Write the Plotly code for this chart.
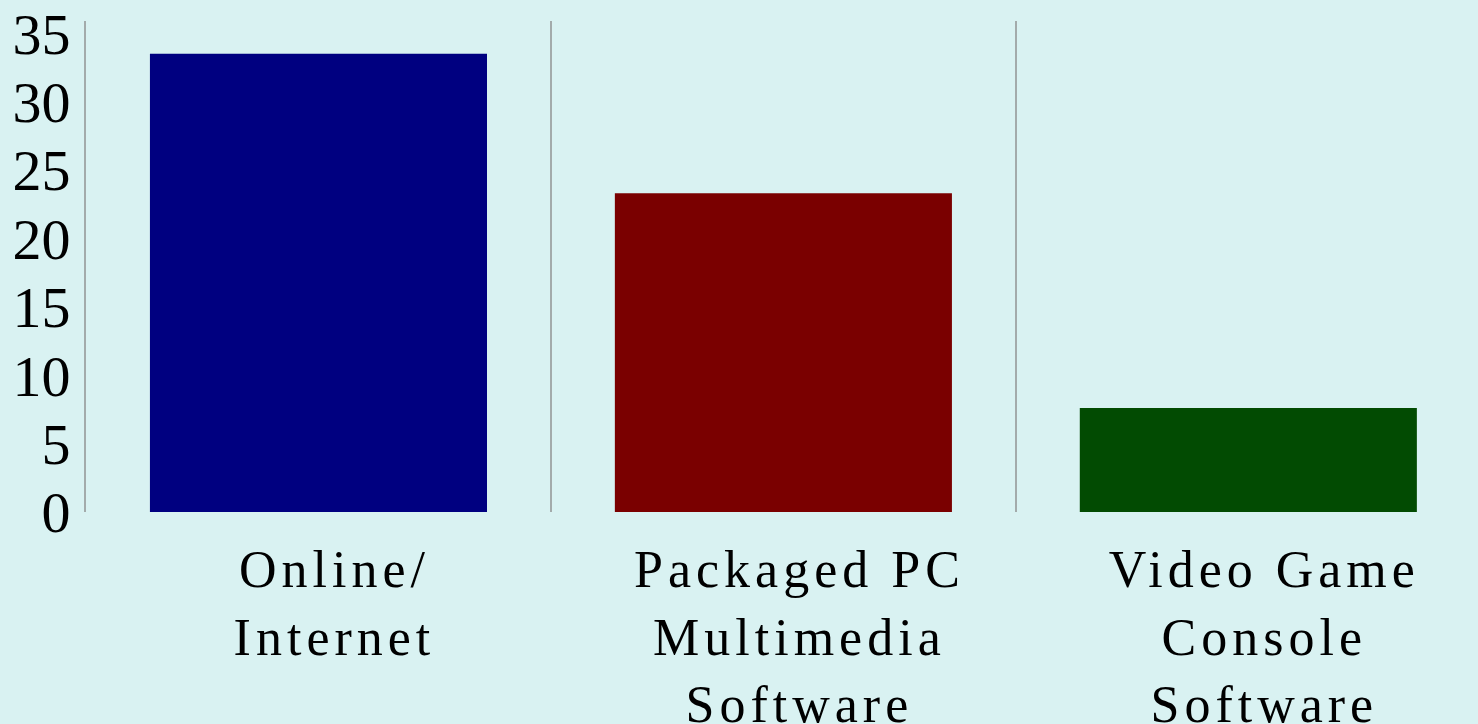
import plotly.graph_objects as go

categories = ["Online/<br>Internet", "Packaged PC<br>Multimedia<br>Software", "Video Game<br>Console<br>Software"]
values = [33.5, 23.3, 7.6]
colors = ["#000080", "#7A0000", "#024B02"]
y_ticks = [0, 5, 10, 15, 20, 25, 30, 35]

fig = go.Figure(
    go.Bar(
        x=categories,
        y=values,
        marker=dict(color=colors, line=dict(width=0)),
        hoverinfo="skip",
    )
)

bg = "#D9F2F2"
yfnt = dict(family="Liberation Serif, Times New Roman, serif", size=58, color="black")
xfnt = dict(family="Liberation Serif, Times New Roman, serif", size=52, color="black")

fig.update_layout(
    width=1478,
    height=724,
    paper_bgcolor=bg,
    plot_bgcolor=bg,
    margin=dict(l=86, r=0, t=21, b=212),
    bargap=0.275,
    showlegend=False,
    font=yfnt,
)

fig.update_xaxes(
    type="category",
    range=[-0.5, 2.494],
    tickson="boundaries",
    showgrid=True,
    gridcolor="#A3ABAB",
    gridwidth=2,
    ticks="",
    showline=False,
    zeroline=False,
    tickfont=xfnt,
    ticklabelstandoff=22,
    automargin=False,
)

fig.update_yaxes(
    range=[0, 35.9],
    tickvals=y_ticks,
    ticktext=[str(v) for v in y_ticks],
    showgrid=False,
    zeroline=False,
    showline=True,
    linecolor="#A3ABAB",
    linewidth=2,
    ticks="",
    tickfont=yfnt,
    ticklabelstandoff=2,
    automargin=False,
)

post = (
    "document.body.style.margin='0';"
    "document.body.style.overflow='hidden';"
    "document.querySelectorAll('.xtick text').forEach(function(t){"
    "t.style.letterSpacing='5px';"
    "t.setAttribute('transform',(t.getAttribute('transform')||'')+' translate(16,0)');});"
)

fig.write_html(
    "out.html",
    config={"displayModeBar": False},
    post_script=post,
)
